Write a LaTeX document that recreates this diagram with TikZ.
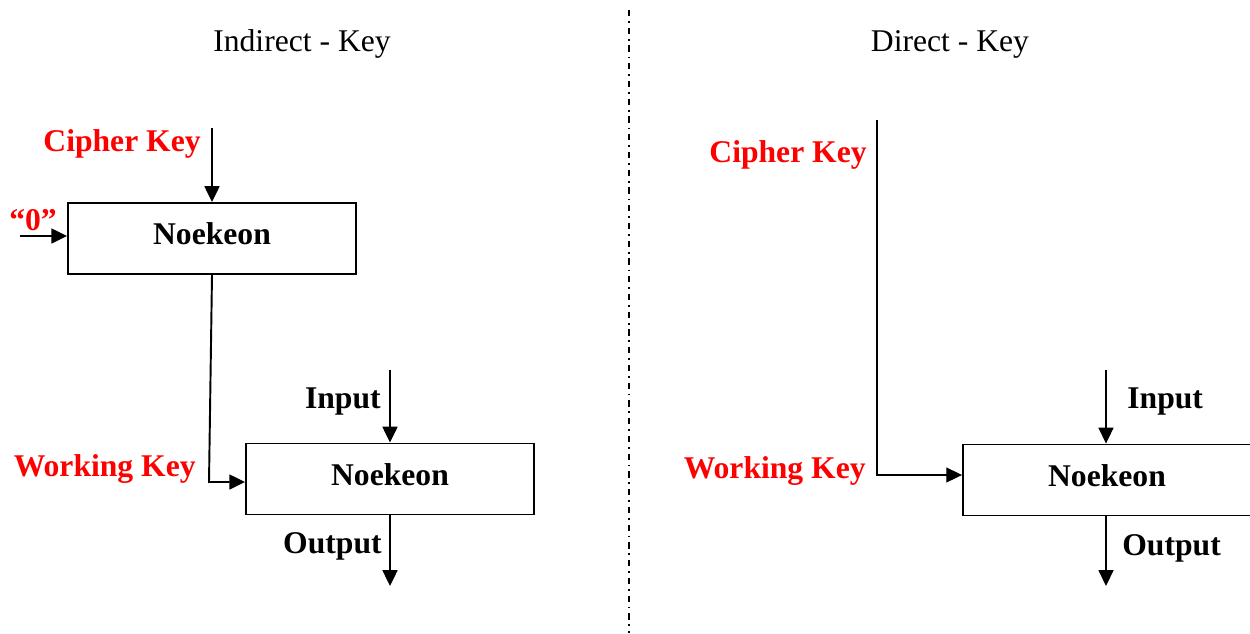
\documentclass[tikz,border=0pt]{standalone}
\usepackage{fontspec}
\setmainfont{Liberation Serif}
\usetikzlibrary{arrows.meta}
\definecolor{keyred}{RGB}{255,0,0}
\tikzset{
  px/.style={x=0.02cm,y=-0.02cm},
  cipherbox/.style={draw,line width=1.1pt,minimum width=5.76cm,minimum height=1.42cm,
    inner sep=0pt,text depth=5.5pt,font=\fontsize{18}{20}\selectfont\bfseries},
  keylabel/.style={text=keyred,font=\fontsize{18}{20}\selectfont\bfseries,inner sep=0pt},
  iolabel/.style={font=\fontsize{18}{20}\selectfont\bfseries,inner sep=0pt},
  title/.style={font=\fontsize{18}{20}\selectfont,inner sep=0pt},
  flow/.style={line width=1.1pt,-{Triangle[length=9pt,width=8.5pt]}},
  thinflow/.style={line width=0.8pt,-{Triangle[length=9pt,width=8.5pt]}},
  divider/.style={line width=1pt,dash pattern=on 3.5pt off 2.8pt on 1pt off 2.8pt}
}
\begin{document}
\begin{tikzpicture}[px]
\useasboundingbox (0,0) rectangle (1250,633);

% titles and divider
\node[title] (t1) at (302,44) {Indirect - Key};
\node[title] (t2) at (950,44) {Direct - Key};
\coordinate (dtop) at (629,10);
\coordinate (dbot) at (629,633);
\draw[divider] (dtop) -- (dbot);

% ---- indirect key ----
\node[cipherbox] (n1) at (212,238.5) {Noekeon};
\node[cipherbox] (n2) at (390,479) {Noekeon};
\node[keylabel,anchor=east] (ck1) at (201,144) {Cipher Key};
\node[keylabel,anchor=west] (zero) at (9,220) {“0”};
\node[keylabel,anchor=east] (wk1) at (196,469) {Working Key};
\node[iolabel,anchor=east] (in1) at (381,402) {Input};
\node[iolabel,anchor=east] (out1) at (382,546) {Output};

\coordinate (ck1s) at (212,128);
\coordinate (zs) at (20,236);
\coordinate (bend1) at (209,482);
\coordinate (in1s) at (390,370);
\coordinate (out1e) at (390,586);

\draw[flow] (ck1s) -- (n1.north);
\draw[flow] (zs) -- (zs -| n1.west);
\draw[flow] (n1.south) -- (bend1) -- (bend1 -| n2.west);
\draw[flow] (in1s) -- (n2.north);
\draw[flow] (n2.south) -- (out1e);

% ---- direct key ----
\node[cipherbox] (n3) at (1107,480) {Noekeon};
\node[keylabel,anchor=east] (ck2) at (867,155) {Cipher Key};
\node[keylabel,anchor=east] (wk2) at (866,471) {Working Key};
\node[iolabel,anchor=west] (in2) at (1127,402) {Input};
\node[iolabel,anchor=west] (out2) at (1122,548) {Output};

\coordinate (ck2s) at (877,120);
\coordinate (bend2) at (877,475);
\coordinate (in2s) at (1106,370);
\coordinate (out2e) at (1106,586);

\draw[thinflow] (ck2s) -- (bend2) -- (bend2 -| n3.west);
\draw[thinflow] (in2s) -- (in2s |- n3.north);
\draw[thinflow] (in2s |- n3.south) -- (out2e);
\end{tikzpicture}
\end{document}
